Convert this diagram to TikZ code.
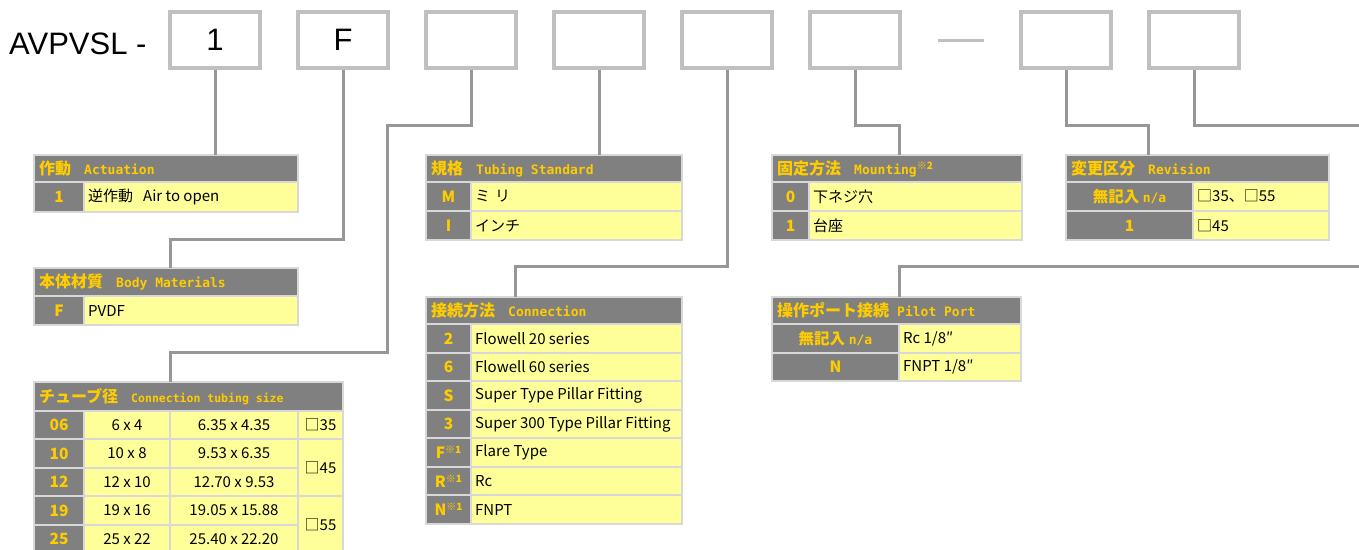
\documentclass[tikz,border=0pt]{standalone}
\usepackage{fontspec}
\setmainfont{Noto Sans CJK JP}
\newfontfamily\ttlfont{Liberation Sans}
\newfontfamily\hdmono{DejaVu Sans Mono Bold}
\definecolor{boxgray}{HTML}{C0C0C0}
\definecolor{linegray}{HTML}{979797}
\definecolor{hdgray}{HTML}{808080}
\definecolor{keyyel}{HTML}{FFCC00}
\definecolor{valyel}{HTML}{FFFF99}
\definecolor{cellline}{HTML}{D8D8D8}
\tikzset{
  codebox/.style={draw=boxgray, line width=4pt, fill=white, minimum width=90pt, minimum height=56pt, inner sep=0pt,
    font=\ttlfont\fontsize{31}{31}\selectfont},
  conn/.style={draw=linegray, line width=3pt},
  cellbase/.style={draw=cellline, line width=2pt, inner sep=0pt, outer sep=0pt},
  hdcell/.style={cellbase, fill=hdgray},
  keycell/.style={cellbase, fill=hdgray},
  valcell/.style={cellbase, fill=valyel},
  hdtext/.style={text=keyyel, inner sep=0pt, font=\bfseries\fontsize{16}{16}\selectfont},
  keytext/.style={text=keyyel, inner sep=0pt, font=\bfseries\fontsize{15.5}{15.5}\selectfont},
  valtext/.style={text=black, inner sep=0pt, font=\fontsize{15}{15}\selectfont},
}
\newcommand\hdlat[1]{{\hdmono\fontsize{13}{13}\selectfont #1}}
\newcommand\hc[6]{\node[hdcell, anchor=north west, minimum width={#4-#2}, minimum height={#5-#3}] (#1) at (#2,#3) {};
  \node[hdtext, anchor=west] (#1T) at ([xshift=5pt]#1.west) {#6};}
\newcommand\kc[6]{\node[keycell, anchor=north west, minimum width={#4-#2}, minimum height={#5-#3}] (#1) at (#2,#3) {};
  \node[keytext] (#1T) at (#1.center) {#6};}
\newcommand\vc[6]{\node[valcell, anchor=north west, minimum width={#4-#2}, minimum height={#5-#3}] (#1) at (#2,#3) {};
  \node[valtext, anchor=west] (#1T) at ([xshift=4pt]#1.west) {#6};}
\newcommand\vcc[6]{\node[valcell, anchor=north west, minimum width={#4-#2}, minimum height={#5-#3}] (#1) at (#2,#3) {};
  \node[valtext] (#1T) at (#1.center) {#6};}
\newcommand\supmark[1]{\raisebox{5pt}{\fontsize{10}{10}\selectfont #1}}
\begin{document}
\begin{tikzpicture}[x=1pt,y=-1pt]
\useasboundingbox (0,0) rectangle (1359,549);
\clip (0,0) rectangle (1359,549);
\fill[white] (0,0) rectangle (1359,549);

% title and code boxes
\node[anchor=west, inner sep=0pt, font=\ttlfont\fontsize{31}{31}\selectfont] (title) at (9,44) {AVPVSL -};
\node[codebox] (b1) at (215,40) {1};
\node[codebox] (b2) at (343,40) {F};
\node[codebox] (b3) at (471,40) {};
\node[codebox] (b4) at (599,40) {};
\node[codebox] (b5) at (727,40) {};
\node[codebox] (b6) at (855,40) {};
\coordinate (d1) at (938,40);
\coordinate (d2) at (984,40);
\draw[boxgray, line width=3pt] (d1) -- (d2);
\node[codebox] (b7) at (1066,40) {};
\node[codebox] (b8) at (1194,40) {};

% Actuation
\hc{acth}{34}{155}{298}{182}{作動\hspace{13pt}\hdlat{Actuation}}
\kc{act1k}{34}{182}{84}{212}{1}
\vc{act1v}{84}{182}{298}{212}{逆作動\hspace{10pt}Air to open}

% Body materials
\hc{bodyh}{34}{268}{298}{296}{本体材質\hspace{13pt}\hdlat{Body Materials}}
\kc{body1k}{34}{296}{84}{325}{F}
\vc{body1v}{84}{296}{298}{325}{PVDF}

% Connection tubing size
\hc{tubeh}{34}{382}{343}{411}{チューブ径\hspace{13pt}{\hdmono\fontsize{11.5}{12}\selectfont Connection tubing size}}
\kc{t1k}{34}{411}{84}{439}{06}
\vcc{t1a}{84}{411}{170}{439}{6 x 4}
\vcc{t1b}{170}{411}{298}{439}{6.35 x 4.35}
\vcc{t1c}{298}{411}{343}{439}{□35}
\kc{t2k}{34}{439}{84}{468}{10}
\vcc{t2a}{84}{439}{170}{468}{10 x 8}
\vcc{t2b}{170}{439}{298}{468}{9.53 x 6.35}
\vcc{t2c}{298}{439}{343}{496}{□45}
\kc{t3k}{34}{468}{84}{496}{12}
\vcc{t3a}{84}{468}{170}{496}{12 x 10}
\vcc{t3b}{170}{468}{298}{496}{12.70 x 9.53}
\kc{t4k}{34}{496}{84}{525}{19}
\vcc{t4a}{84}{496}{170}{525}{19 x 16}
\vcc{t4b}{170}{496}{298}{525}{19.05 x 15.88}
\vcc{t4c}{298}{496}{343}{553}{□55}
\kc{t5k}{34}{525}{84}{553}{25}
\vcc{t5a}{84}{525}{170}{553}{25 x 22}
\vcc{t5b}{170}{525}{298}{553}{25.40 x 22.20}

% Tubing standard
\hc{stdh}{426}{155}{682}{182}{規格\hspace{13pt}\hdlat{Tubing Standard}}
\kc{s1k}{426}{182}{471}{211}{M}
\vc{s1v}{471}{182}{682}{211}{ミ\hspace{5pt}リ}
\kc{s2k}{426}{211}{471}{240}{I}
\vc{s2v}{471}{211}{682}{240}{インチ}

% Connection
\hc{connh}{426}{297}{682}{324}{接続方法\hspace{13pt}\hdlat{Connection}}
\kc{c1k}{426}{324}{471}{353}{2}
\vc{c1v}{471}{324}{682}{353}{Flowell 20 series}
\kc{c2k}{426}{353}{471}{381}{6}
\vc{c2v}{471}{353}{682}{381}{Flowell 60 series}
\kc{c3k}{426}{381}{471}{410}{S}
\vc{c3v}{471}{381}{682}{410}{Super Type Pillar Fitting}
\kc{c4k}{426}{410}{471}{438}{3}
\vc{c4v}{471}{410}{682}{438}{Super 300 Type Pillar Fitting}
\kc{c5k}{426}{438}{471}{467}{F\supmark{※1}}
\vc{c5v}{471}{438}{682}{467}{Flare Type}
\kc{c6k}{426}{467}{471}{495}{R\supmark{※1}}
\vc{c6v}{471}{467}{682}{495}{Rc}
\kc{c7k}{426}{495}{471}{524}{N\supmark{※1}}
\vc{c7v}{471}{495}{682}{524}{FNPT}

% Mounting
\hc{mnth}{772}{155}{1022}{182}{固定方法\hspace{13pt}\hdlat{Mounting}\supmark{※2}}
\kc{m1k}{772}{182}{809}{211}{0}
\vc{m1v}{809}{182}{1022}{211}{下ネジ穴}
\kc{m2k}{772}{211}{809}{240}{1}
\vc{m2v}{809}{211}{1022}{240}{台座}

% Revision
\hc{revh}{1066}{155}{1329}{182}{変更区分\hspace{13pt}\hdlat{Revision}}
\kc{r1k}{1066}{182}{1193}{211}{無記入 \hdlat{n/a}}
\vc{r1v}{1193}{182}{1329}{211}{□35、□55}
\kc{r2k}{1066}{211}{1193}{240}{1}
\vc{r2v}{1193}{211}{1329}{240}{□45}

% Pilot port
\hc{pilh}{772}{297}{1021}{324}{操作ポート接続\hspace{8pt}\hdlat{Pilot Port}}
\kc{p1k}{772}{324}{899}{353}{無記入 \hdlat{n/a}}
\vc{p1v}{899}{324}{1021}{353}{Rc 1/8″}
\kc{p2k}{772}{353}{899}{381}{N}
\vc{p2v}{899}{353}{1021}{381}{FNPT 1/8″}

% connectors
\coordinate (k2) at (170,239);
\coordinate (k3a) at (387,125);
\coordinate (k3b) at (170,352);
\coordinate (k5) at (515,266);
\coordinate (k6) at (899,125);
\coordinate (k7) at (1148,125);
\coordinate (k8) at (1365,125);
\coordinate (k9) at (1365,266);
\coordinate (k10) at (899,266);
\draw[conn] (b1.south) -- (b1.south |- acth.north);
\draw[conn] (b2.south) |- (k2) -- (k2 |- bodyh.north);
\draw[conn] (b3.south) |- (k3a) |- (k3b) -- (k3b |- tubeh.north);
\draw[conn] (b4.south) -- (b4.south |- stdh.north);
\draw[conn] (b5.south) |- (k5) -- (k5 |- connh.north);
\draw[conn] (b6.south) |- (k6) -- (k6 |- mnth.north);
\draw[conn] (b7.south) |- (k7) -- (k7 |- revh.north);
\draw[conn] (b8.south) |- (k8);
\draw[conn] (k9) -- (k10) -- (k10 |- pilh.north);
\end{tikzpicture}
\end{document}
